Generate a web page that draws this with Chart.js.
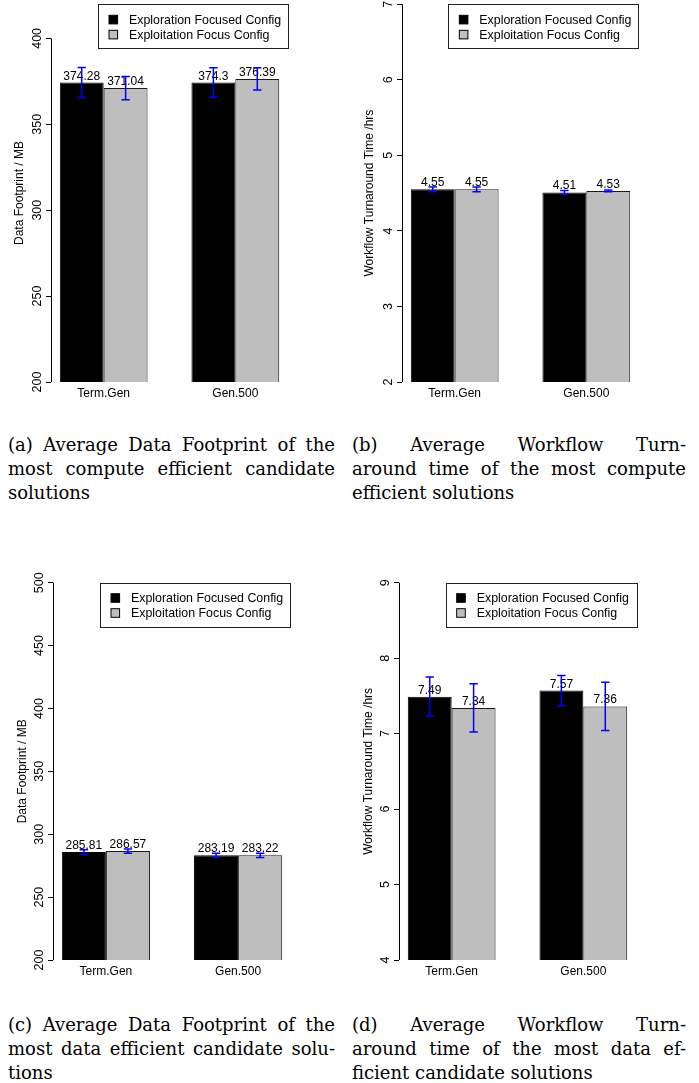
<!DOCTYPE html>
<html>
<head>
<meta charset="utf-8">
<script src="https://cdn.jsdelivr.net/npm/chart.js@4.4.0/dist/chart.umd.min.js"></script>
<style>
body { margin: 0; background: #fff; }
#page { position: relative; width: 699px; height: 1083px; }
canvas { position: absolute; }
.cap { position: absolute; font-family: "DejaVu Serif"; font-size: 18px; line-height: 24px; color: #000; }
.cap span { display: block; text-align: justify; text-align-last: justify; }
.cap span.last { text-align-last: left; }
</style>
</head>
<body>
<div id="page">
  <canvas id="chartA" width="350" height="410" style="left:0;top:0"></canvas>
  <canvas id="chartB" width="349" height="410" style="left:350px;top:0"></canvas>
  <canvas id="chartC" width="350" height="420" style="left:0;top:560px"></canvas>
  <canvas id="chartD" width="349" height="420" style="left:350px;top:560px"></canvas>

  <div class="cap" style="left:8px;top:433px;width:327px">
    <span>(a) Average Data Footprint of the</span>
    <span>most compute efficient candidate</span>
    <span class="last">solutions</span>
  </div>
  <div class="cap" style="left:352px;top:433px;width:334px">
    <span>(b) Average Workflow Turn-</span>
    <span>around time of the most compute</span>
    <span class="last">efficient solutions</span>
  </div>
  <div class="cap" style="left:8px;top:1013px;width:327px">
    <span>(c) Average Data Footprint of the</span>
    <span>most data efficient candidate solu-</span>
    <span class="last">tions</span>
  </div>
  <div class="cap" style="left:352px;top:1013px;width:334px">
    <span>(d) Average Workflow Turn-</span>
    <span>around time of the most data ef-</span>
    <span class="last">ficient candidate solutions</span>
  </div>
</div>

<script>
const categories = ['Term.Gen', 'Gen.500'];
const seriesNames = ['Exploration Focused Config', 'Exploitation Focus Config'];

// (a) data footprint, compute efficient
const footCompExplore = [374.28, 374.3];
const footCompExploit = [371.04, 376.39];
const footCompExploreErr = [8.7, 8.6];
const footCompExploitErr = [6.8, 6.5];

// (b) turnaround time, compute efficient
const timeCompExplore = [4.55, 4.51];
const timeCompExploit = [4.55, 4.53];
const timeCompExploreErr = [0.03, 0.025];
const timeCompExploitErr = [0.03, 0.013];

// (c) data footprint, data efficient
const footDataExplore = [285.81, 283.19];
const footDataExploit = [286.57, 283.22];
const footDataExploreErr = [1.9, 1.6];
const footDataExploitErr = [1.7, 1.7];

// (d) turnaround time, data efficient
const timeDataExplore = [7.49, 7.57];
const timeDataExploit = [7.34, 7.36];
const timeDataExploreErr = [0.26, 0.2];
const timeDataExploitErr = [0.32, 0.32];

Chart.defaults.font.family = '"Liberation Sans", Arial, sans-serif';
Chart.defaults.font.size = 12;
Chart.defaults.color = '#000';

// R style left axis: line only between first and last tick, labels rotated
const rAxis = {
  id: 'rAxis',
  afterDraw(chart) {
    const ctx = chart.ctx;
    const y = chart.scales.y;
    const x0 = Math.round(chart.chartArea.left) + 0.5;
    const ticks = y.ticks;
    ctx.save();
    ctx.strokeStyle = '#000';
    ctx.lineWidth = 1;
    ctx.beginPath();
    ctx.moveTo(x0, y.getPixelForValue(ticks[0].value));
    ctx.lineTo(x0, y.getPixelForValue(ticks[ticks.length - 1].value));
    ctx.stroke();
    ctx.fillStyle = '#000';
    ctx.font = '12.5px "Liberation Sans"';
    ctx.textAlign = 'center';
    ctx.textBaseline = 'middle';
    ticks.forEach(t => {
      ctx.save();
      ctx.translate(x0 - 13.5, y.getPixelForValue(t.value));
      ctx.rotate(-Math.PI / 2);
      ctx.fillText(String(t.value), 0, 0);
      ctx.restore();
    });
    ctx.restore();
  }
};

const barValues = {
  id: 'barValues',
  afterDatasetsDraw(chart) {
    const ctx = chart.ctx;
    const y = chart.scales.y;
    ctx.save();
    ctx.font = '12px "Liberation Sans"';
    ctx.fillStyle = '#000';
    ctx.textAlign = 'center';
    ctx.textBaseline = 'alphabetic';
    chart.data.datasets.forEach((ds, i) => {
      chart.getDatasetMeta(i).data.forEach((bar, j) => {
        ctx.fillText(String(ds.data[j].y), bar.x, bar.y - 3);
      });
    });
    // error bars on top of the numbers
    ctx.strokeStyle = '#0000ff';
    ctx.lineWidth = 1.5;
    chart.data.datasets.forEach((ds, i) => {
      chart.getDatasetMeta(i).data.forEach((bar, j) => {
        const v = ds.data[j].y, e = ds.errors[j];
        const top = y.getPixelForValue(v + e);
        const bot = y.getPixelForValue(v - e);
        ctx.beginPath();
        ctx.moveTo(bar.x, top); ctx.lineTo(bar.x, bot);
        ctx.moveTo(bar.x - 4.2, top); ctx.lineTo(bar.x + 4.2, top);
        ctx.moveTo(bar.x - 4.2, bot); ctx.lineTo(bar.x + 4.2, bot);
        ctx.stroke();
      });
    });
    ctx.restore();
  }
};

const rLegend = {
  id: 'rLegend',
  afterDraw(chart, args, opts) {
    const ctx = chart.ctx;
    ctx.save();
    ctx.fillStyle = '#fff';
    ctx.fillRect(opts.x, opts.y, opts.w, opts.h);
    ctx.strokeStyle = '#222';
    ctx.lineWidth = 1;
    ctx.strokeRect(Math.round(opts.x) + 0.5, Math.round(opts.y) + 0.5, Math.round(opts.w), Math.round(opts.h));
    ctx.font = '12.4px "Liberation Sans"';
    ctx.textAlign = 'left';
    ctx.textBaseline = 'middle';
    chart.data.datasets.forEach((ds, i) => {
      const cy = opts.y + 15.3 + i * 15;
      ctx.fillStyle = ds.backgroundColor;
      ctx.fillRect(opts.x + 11, cy - 4.3, 8.6, 8.6);
      ctx.strokeStyle = '#000';
      ctx.strokeRect(opts.x + 11, cy - 4.3, 8.6, 8.6);
      ctx.fillStyle = '#000';
      ctx.fillText(ds.label, opts.x + 31, cy + 0.5);
    });
    ctx.restore();
  }
};

function makeChart(id, explore, exploit, exploreErr, exploitErr, yMin, yMax, step, yTitle, area, titlePad, legendBox) {
  const canvas = document.getElementById(id);
  const W = canvas.width, H = canvas.height;
  const toPoints = arr => arr.map((v, i) => ({ x: i, y: v }));
  return new Chart(canvas, {
    type: 'bar',
    data: {
      datasets: [
        { label: seriesNames[0], data: toPoints(explore), errors: exploreErr,
          backgroundColor: '#000000', borderColor: '#000000', borderWidth: 1, borderSkipped: false },
        { label: seriesNames[1], data: toPoints(exploit), errors: exploitErr,
          backgroundColor: '#bebebe', borderColor: '#1a1a1a', borderWidth: 1, borderSkipped: false }
      ]
    },
    options: {
      responsive: false,
      animation: false,
      events: [],
      categoryPercentage: 2 / 3,
      barPercentage: 1,
      layout: { padding: { left: 0, top: area.top, right: W - area.right, bottom: 0 } },
      plugins: {
        legend: { display: false },
        tooltip: { enabled: false },
        rLegend: legendBox
      },
      scales: {
        x: {
          type: 'linear',
          min: -0.4,
          max: 1.4,
          offset: false,
          grid: { display: false, drawTicks: false, offset: false },
          border: { display: false },
          ticks: {
            stepSize: 1,
            includeBounds: false,
            autoSkip: false,
            padding: 4,
            maxRotation: 0,
            callback: v => categories[v] !== undefined ? categories[v] : ''
          },
          afterFit: s => { s.height = H - area.bottom; }
        },
        y: {
          min: yMin,
          max: yMax,
          beginAtZero: false,
          grid: { display: true, drawOnChartArea: false, drawTicks: true, tickLength: 5, color: '#000', lineWidth: 1 },
          border: { display: false },
          ticks: { display: false, stepSize: step, includeBounds: false },
          title: { display: true, text: yTitle, font: { size: 12 }, padding: { top: titlePad, bottom: 0 } },
          afterFit: s => { s.width = area.left; }
        }
      }
    },
    plugins: [rAxis, barValues, rLegend]
  });
}

makeChart('chartA', footCompExplore, footCompExploit, footCompExploreErr, footCompExploitErr,
  200, 420, 50, 'Data Footprint / MB',
  { left: 51, top: 4, right: 288, bottom: 382 }, 12.8,
  { x: 98, y: 4.3, w: 190, h: 44.4 });

makeChart('chartB', timeCompExplore, timeCompExploit, timeCompExploreErr, timeCompExploitErr,
  2, 7, 1, 'Workflow Turnaround Time /hrs',
  { left: 52, top: 4.3, right: 289, bottom: 382 }, 12.8,
  { x: 98.3, y: 4.3, w: 190.4, h: 44.4 });

makeChart('chartC', footDataExplore, footDataExploit, footDataExploreErr, footDataExploitErr,
  200, 500, 50, 'Data Footprint / MB',
  { left: 53, top: 22.7, right: 291, bottom: 400 }, 15.5,
  { x: 100, y: 22.7, w: 190.3, h: 44.3 });

makeChart('chartD', timeDataExplore, timeDataExploit, timeDataExploreErr, timeDataExploitErr,
  4, 9, 1, 'Workflow Turnaround Time /hrs',
  { left: 49, top: 22.7, right: 286, bottom: 400 }, 11.1,
  { x: 95.7, y: 22.7, w: 190.6, h: 44.3 });
</script>
</body>
</html>
